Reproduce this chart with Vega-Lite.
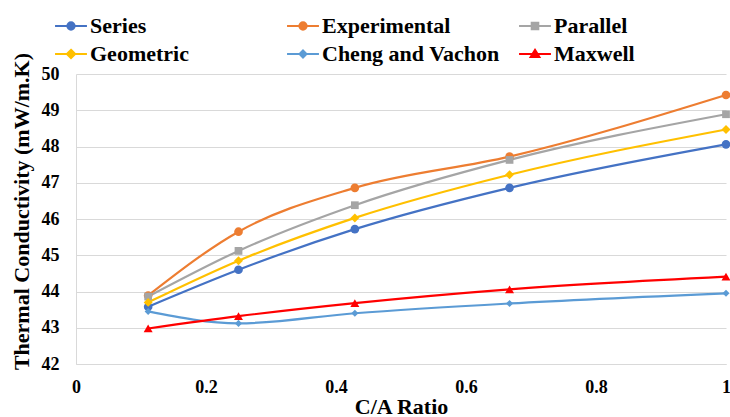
{
  "$schema": "https://vega.github.io/schema/vega-lite/v6.json",
  "autosize": "none",
  "width": 650,
  "height": 290,
  "padding": {"left": 76, "top": 74, "right": 4, "bottom": 53},
  "background": "white",
  "config": {
    "font": "Liberation Serif",
    "view": {"stroke": null},
    "axis": {
      "labelFont": "Liberation Serif",
      "labelFontWeight": "bold",
      "labelFontSize": 18,
      "labelColor": "#000000",
      "titleFont": "Liberation Serif",
      "titleFontWeight": "bold",
      "titleFontSize": 22,
      "titleColor": "#000000",
      "domainColor": "#d9d9d9",
      "gridColor": "#d9d9d9",
      "ticks": false
    },
    "legend": {
      "labelFont": "Liberation Serif",
      "labelFontWeight": "bold",
      "labelFontSize": 22,
      "labelColor": "#000000",
      "labelLimit": 300
    }
  },
  "data": {
    "values": [
      {"ratio": 0.111, "series": "Series", "k": 43.58},
      {"ratio": 0.25, "series": "Series", "k": 44.6},
      {"ratio": 0.429, "series": "Series", "k": 45.72},
      {"ratio": 0.667, "series": "Series", "k": 46.86},
      {"ratio": 1.0, "series": "Series", "k": 48.06},
      {"ratio": 0.111, "series": "Experimental", "k": 43.89},
      {"ratio": 0.25, "series": "Experimental", "k": 45.65},
      {"ratio": 0.429, "series": "Experimental", "k": 46.86},
      {"ratio": 0.667, "series": "Experimental", "k": 47.72},
      {"ratio": 1.0, "series": "Experimental", "k": 49.42},
      {"ratio": 0.111, "series": "Parallel", "k": 43.86},
      {"ratio": 0.25, "series": "Parallel", "k": 45.12},
      {"ratio": 0.429, "series": "Parallel", "k": 46.38},
      {"ratio": 0.667, "series": "Parallel", "k": 47.63},
      {"ratio": 1.0, "series": "Parallel", "k": 48.89},
      {"ratio": 0.111, "series": "Geometric", "k": 43.7},
      {"ratio": 0.25, "series": "Geometric", "k": 44.85},
      {"ratio": 0.429, "series": "Geometric", "k": 46.03},
      {"ratio": 0.667, "series": "Geometric", "k": 47.22},
      {"ratio": 1.0, "series": "Geometric", "k": 48.47},
      {"ratio": 0.111, "series": "Cheng and Vachon", "k": 43.45},
      {"ratio": 0.25, "series": "Cheng and Vachon", "k": 43.12},
      {"ratio": 0.429, "series": "Cheng and Vachon", "k": 43.4},
      {"ratio": 0.667, "series": "Cheng and Vachon", "k": 43.67},
      {"ratio": 1.0, "series": "Cheng and Vachon", "k": 43.95},
      {"ratio": 0.111, "series": "Maxwell", "k": 42.98},
      {"ratio": 0.25, "series": "Maxwell", "k": 43.32},
      {"ratio": 0.429, "series": "Maxwell", "k": 43.68},
      {"ratio": 0.667, "series": "Maxwell", "k": 44.06},
      {"ratio": 1.0, "series": "Maxwell", "k": 44.41}
    ]
  },
  "encoding": {
    "x": {
      "field": "ratio",
      "type": "quantitative",
      "scale": {"domain": [0, 1], "nice": false, "zero": false},
      "axis": {
        "title": "C/A Ratio",
        "values": [0, 0.2, 0.4, 0.6, 0.8, 1],
        "format": "~g",
        "grid": false,
        "labelPadding": 14,
        "titleY": 49,
        "titleBaseline": "alphabetic",
        "labelFlush": false
      }
    },
    "y": {
      "field": "k",
      "type": "quantitative",
      "scale": {"domain": [42, 50], "nice": false, "zero": false},
      "axis": {
        "title": "Thermal Conductivity (mW/m.K)",
        "values": [42, 43, 44, 45, 46, 47, 48, 49, 50],
        "grid": true,
        "labelPadding": 17,
        "titlePadding": 8,
        "titleY": 137
      }
    },
    "color": {
      "field": "series",
      "type": "nominal",
      "scale": {
        "domain": ["Series", "Experimental", "Parallel", "Geometric", "Cheng and Vachon", "Maxwell"],
        "range": ["#4472C4", "#ED7D31", "#A5A5A5", "#FFC000", "#5B9BD5", "#FF0000"]
      },
      "legend": {
        "title": null,
        "orient": "none",
        "direction": "horizontal",
        "legendX": -17,
        "legendY": -60,
        "columns": 3,
        "gridAlign": "all",
        "columnPadding": 15,
        "rowPadding": 5,
        "labelOffset": 7,
        "labelLimit": 300,
        "symbolSize": 484,
        "symbolStrokeWidth": 2,
        "encode": {
          "symbols": {
            "update": {
              "shape": {"signal": "datum.value === 'Series' || datum.value === 'Experimental' ? 'M-1.45,0H1.45M-0.33,0A0.33,0.33,0,1,0,0.33,0A0.33,0.33,0,1,0,-0.33,0Z' : datum.value === 'Parallel' ? 'M-1.45,0H1.45M-0.3,-0.3H0.3V0.3H-0.3Z' : datum.value === 'Geometric' ? 'M-1.45,0H1.45M0,-0.38L0.38,0L0,0.38L-0.38,0Z' : datum.value === 'Cheng and Vachon' ? 'M-1.45,0H1.45M0,-0.32L0.32,0L0,0.32L-0.32,0Z' : 'M-1.45,0H1.45M0,-0.38L0.4,0.28H-0.4Z'"},
              "fill": {"scale": "color", "field": "value"},
              "stroke": {"scale": "color", "field": "value"},
              "strokeWidth": {"value": 2},
              "opacity": {"value": 1}
            }
          }
        }
      }
    }
  },
  "layer": [
    {
      "mark": {"type": "line", "interpolate": "monotone", "strokeWidth": 2.2},
      "encoding": {}
    },
    {
      "transform": [{"filter": "datum.series === 'Series' || datum.series === 'Experimental'"}],
      "mark": {"type": "point", "filled": true, "opacity": 1, "size": 75, "shape": "circle"},
      "encoding": {}
    },
    {
      "transform": [{"filter": "datum.series === 'Parallel'"}],
      "mark": {"type": "point", "filled": true, "opacity": 1, "size": 60, "shape": "square"},
      "encoding": {}
    },
    {
      "transform": [{"filter": "datum.series === 'Geometric'"}],
      "mark": {"type": "point", "filled": true, "opacity": 1, "size": 80, "shape": "diamond"},
      "encoding": {}
    },
    {
      "transform": [{"filter": "datum.series === 'Cheng and Vachon'"}],
      "mark": {"type": "point", "filled": true, "opacity": 1, "size": 50, "shape": "diamond"},
      "encoding": {}
    },
    {
      "transform": [{"filter": "datum.series === 'Maxwell'"}],
      "mark": {"type": "point", "filled": true, "opacity": 1, "size": 80, "shape": "triangle-up"},
      "encoding": {}
    }
  ]
}
